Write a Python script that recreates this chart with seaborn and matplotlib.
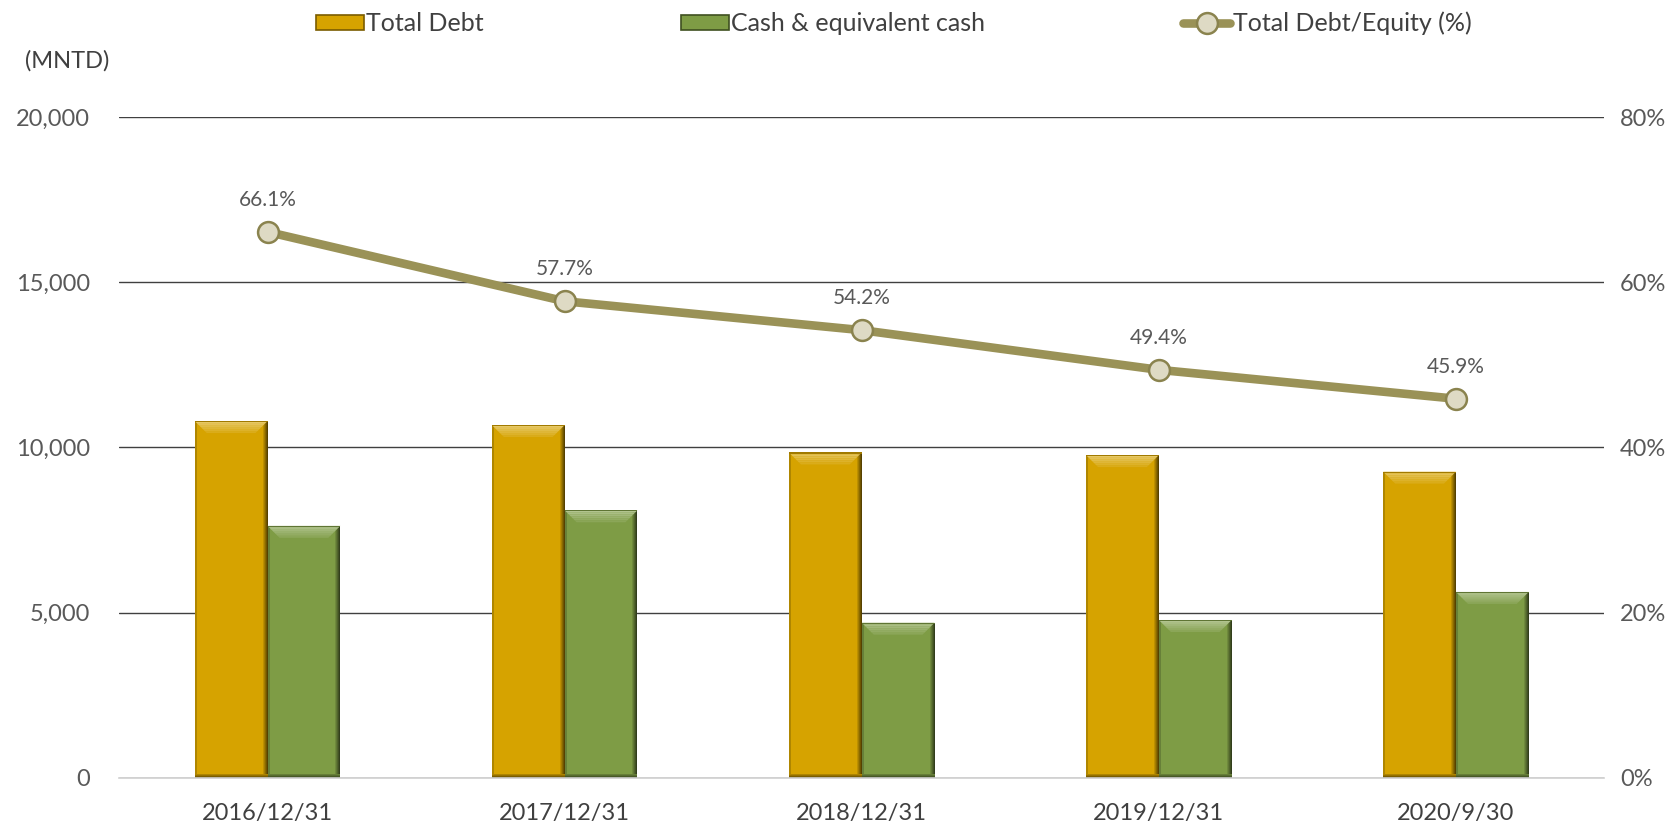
import numpy as np
import pandas as pd
import matplotlib
matplotlib.use("Agg")
import matplotlib.pyplot as plt
from matplotlib.ticker import FuncFormatter, MultipleLocator
from matplotlib.patches import Patch, Polygon, Rectangle
from matplotlib.lines import Line2D
from matplotlib.colors import to_rgb
import seaborn as sns

# Reporting dates
periods = ["2016/12/31", "2017/12/31", "2018/12/31", "2019/12/31", "2020/9/30"]
# Amounts in millions of NTD
total_debt = [10800, 10680, 9850, 9770, 9270]
cash_equiv = [7630, 8100, 4700, 4780, 5630]
# Total debt to equity ratio (%)
debt_equity = [66.1, 57.7, 54.2, 49.4, 45.9]

series_names = ["Total Debt", "Cash & equivalent cash"]
ratio_name = "Total Debt/Equity (%)"

gold = "#D6A300"
green = "#7E9C45"
line_col = "#9A9257"
marker_face = "#DEDAC4"
marker_edge = "#8A834E"
text_col = "#595959"
label_col = "#404040"

sns.set_theme(style="white")
plt.rcParams["font.family"] = ["Lato", "DejaVu Sans"]

df = pd.DataFrame({
    "period": periods * 2,
    "series": [series_names[0]] * len(periods) + [series_names[1]] * len(periods),
    "value": total_debt + cash_equiv,
})


def mix(c, other, t):
    a = np.array(to_rgb(c))
    b = np.array(to_rgb(other))
    return tuple(a * (1 - t) + b * t)


def bevel(ax, bar, base, px_x, px_y):
    """Soft 3D bevel drawn over a bar: dark right/bottom edges, light top."""
    x, w, h = bar.get_x(), bar.get_width(), bar.get_height()
    top = h
    z = bar.get_zorder() + 0.1
    # right edge gradient
    n = 5
    for k in range(n):
        x0 = x + w - (n - k) * px_x
        ax.add_patch(Rectangle((x0, 0), px_x, top, facecolor=mix(base, "black", 0.12 + 0.12 * k),
                               edgecolor="none", zorder=z))
    # left edge
    ax.add_patch(Rectangle((x, 0), 2 * px_x, top, facecolor=mix(base, "black", 0.18),
                           edgecolor="none", zorder=z))
    # bottom edge gradient
    m = 4
    for k in range(m):
        y0 = k * px_y
        ax.add_patch(Rectangle((x, y0), w, px_y, facecolor=mix(base, "black", 0.55 - 0.12 * k),
                               edgecolor="none", zorder=z))
    # top bevel, lighter toward the top edge
    steps = 6
    b = 12
    for k in range(steps):
        y_hi = top - k * (b / steps) * px_y
        y_lo = top - (k + 1) * (b / steps) * px_y
        i_hi = k * (b / steps) * px_x
        i_lo = (k + 1) * (b / steps) * px_x
        c = mix(base, "white", 0.40 - 0.06 * k)
        ax.add_patch(Polygon([(x + i_hi, y_hi), (x + w - i_hi, y_hi),
                              (x + w - i_lo, y_lo), (x + i_lo, y_lo)],
                             closed=True, facecolor=c, edgecolor="none", zorder=z + 0.1))
    # thin dark rim at the very top
    ax.add_patch(Rectangle((x, top - 1.2 * px_y), w, 1.2 * px_y,
                           facecolor=mix(base, "black", 0.25), edgecolor="none", zorder=z + 0.2))


fig = plt.figure(figsize=(16.71, 8.27), dpi=100)
ax = fig.add_axes([0.0712, 0.0593, 0.889, 0.7992])

sns.barplot(data=df, x="period", y="value", hue="series", order=periods,
            hue_order=series_names, palette=[gold, green], width=0.49, gap=0,
            saturation=1, legend=False, linewidth=0, ax=ax)

ax.set_ylim(0, 20000)
ax.set_xlim(-0.5, len(periods) - 0.5)

# data units per pixel
bbox = ax.get_window_extent()
px_x = (len(periods)) / bbox.width
px_y = 20000 / bbox.height
for cont, base in zip(ax.containers, [gold, green]):
    for bar in cont:
        bevel(ax, bar, base, px_x, px_y)

ax.yaxis.set_major_locator(MultipleLocator(5000))
ax.yaxis.set_major_formatter(FuncFormatter(lambda v, p: f"{v:,.0f}"))
ax.grid(axis="y", color="#404040", linewidth=1.0)
ax.set_axisbelow(True)
for s in ["top", "right", "left"]:
    ax.spines[s].set_visible(False)
ax.spines["bottom"].set_color("#D0D0D0")
ax.spines["bottom"].set_linewidth(1.2)
ax.set_xlabel("")
ax.set_ylabel("")
ax.tick_params(axis="y", length=0, pad=21, labelsize=17, labelcolor=text_col)
ax.tick_params(axis="x", length=0, pad=18, labelsize=17, labelcolor=label_col)

ax2 = ax.twinx()
pos = np.arange(len(periods))
sns.lineplot(x=pos, y=debt_equity, ax=ax2, color=line_col, linewidth=6.2,
             marker="o", markersize=15, markerfacecolor=marker_face,
             markeredgecolor=marker_edge, markeredgewidth=1.8, zorder=5)
ax2.set_ylim(0, 80)
ax2.yaxis.set_major_locator(MultipleLocator(20))
ax2.yaxis.set_major_formatter(FuncFormatter(lambda v, p: f"{v:.0f}%"))
ax2.tick_params(axis="y", length=0, pad=11, labelsize=17, labelcolor=text_col)
for s in ["top", "right", "left", "bottom"]:
    ax2.spines[s].set_visible(False)
ax2.grid(False)
ax2.set_xlim(-0.5, len(periods) - 0.5)

for x, v in zip(pos, debt_equity):
    ax2.annotate(f"{v:.1f}%", (x, v), xytext=(0, 23), textcoords="offset points",
                 ha="center", va="center", fontsize=15, color=text_col)

fig.text(0.040, 0.926, "(MNTD)", ha="center", va="center", fontsize=17, color=label_col)

handles = [
    Patch(facecolor=gold, edgecolor="#7A5C00", linewidth=1.2),
    Patch(facecolor=green, edgecolor="#3F5020", linewidth=1.2),
    Line2D([], [], color=line_col, linewidth=6.2, marker="o", markersize=15,
           markerfacecolor=marker_face, markeredgecolor=marker_edge, markeredgewidth=1.8),
]
fig.legend(handles, series_names + [ratio_name], loc="center", ncol=3,
           bbox_to_anchor=(0.535, 0.972), frameon=False, fontsize=18,
           handlelength=1.9, handleheight=0.55, handletextpad=0.1,
           columnspacing=7.9, labelcolor=label_col)

fig.savefig("out.png", dpi=100)
